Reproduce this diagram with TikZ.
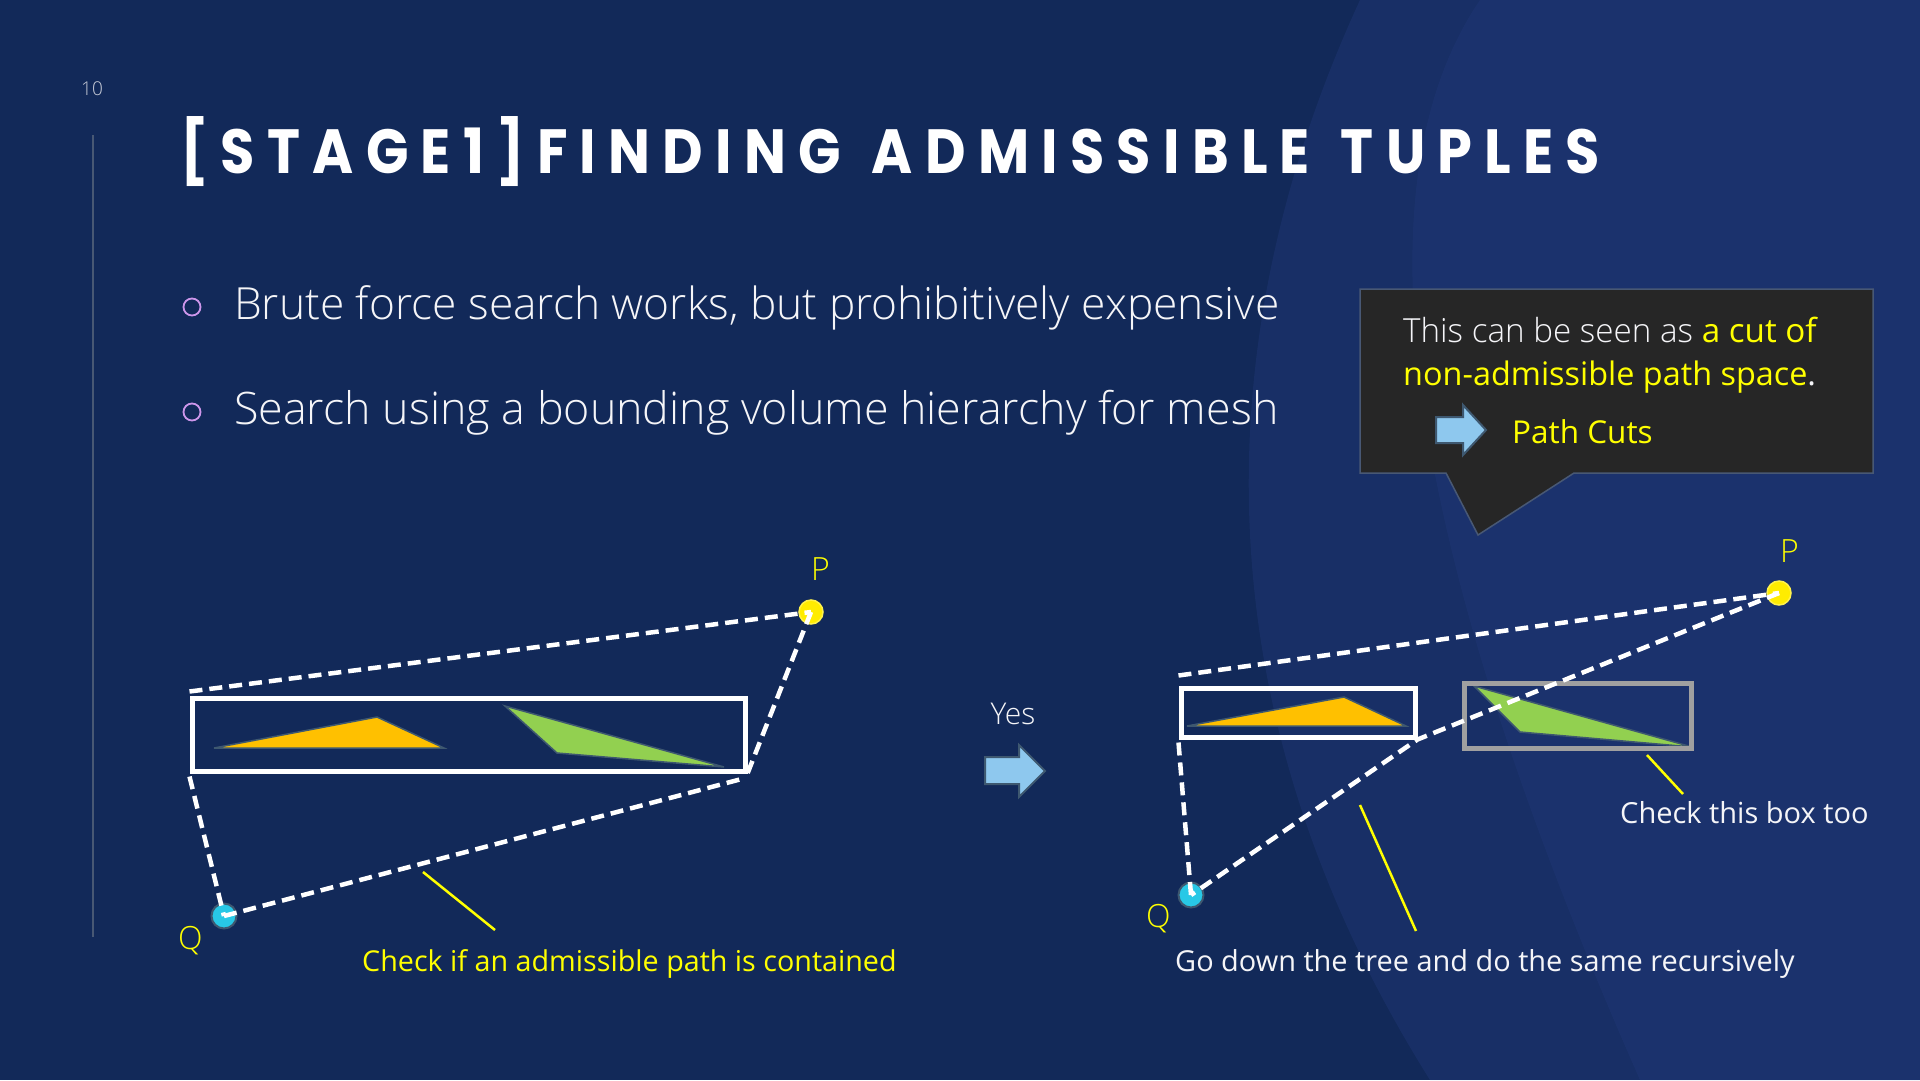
\documentclass[tikz,border=0pt]{standalone}
\usepackage{fontspec}
\setmainfont{Open Sans}
\newfontfamily\lightf{Open Sans Light}
\newfontfamily\titlef{Poppins}[UprightFont={* Bold},LetterSpace=22]
\usetikzlibrary{calc}
\definecolor{bgc}{RGB}{18,41,89}
\definecolor{bandc}{RGB}{42,64,138}
\definecolor{callc}{RGB}{38,38,38}
\definecolor{callb}{RGB}{72,88,116}
\definecolor{yel}{RGB}{255,255,0}
\definecolor{pyel}{RGB}{255,236,0}
\definecolor{qcyan}{RGB}{40,200,230}
\definecolor{slate}{RGB}{62,88,112}
\definecolor{orng}{RGB}{255,192,0}
\definecolor{grn}{RGB}{146,208,80}
\definecolor{abl}{RGB}{142,200,238}
\definecolor{bul}{RGB}{205,150,235}
\definecolor{graybox}{RGB}{160,160,160}
\definecolor{txtw}{RGB}{245,245,248}
\newcommand\titlebox{\titlef\fontsize{60}{60}\selectfont\setbox0=\hbox{[STAGE1]FINDING\hspace{0.55em}ADMISSIBLE\hspace{0.55em}TUPLES}\ht0=\fontcharht\font`\T\dp0=0pt\box0}
\tikzset{
  bbox/.style={draw=white,line width=5pt,minimum width=#1,inner sep=0pt},
  gbox/.style={draw=graybox,line width=5pt,inner sep=0pt},
  dline/.style={draw=white,line width=4.5pt,dash pattern=on 13pt off 7pt},
  ptr/.style={draw=yel,line width=2.5pt},
  pdot/.style={circle,fill=pyel,draw=pyel!70!white,line width=1.5pt,minimum size=24pt,inner sep=0pt},
  qdot/.style={circle,fill=qcyan,draw=slate,line width=2pt,minimum size=25pt,inner sep=0pt},
  tri/.style={draw=slate,line width=1.5pt,line join=miter},
  barrow/.style={fill=abl,draw=slate,line width=2pt,line join=miter},
  lbl/.style={anchor=base west,inner sep=0pt},
}
\begin{document}
\begin{tikzpicture}[x=1pt,y=-1pt]
\useasboundingbox (0,0) rectangle (1920,1080);
% background
\fill[bgc] (0,0) rectangle (1920,1080);
\fill[bandc,opacity=0.28] (1360,0) .. controls (1240,260) and (1160,650) .. (1430,1080) -- (1920,1080) -- (1920,0) -- cycle;
\fill[bandc,opacity=0.22] (1480,0) .. controls (1330,220) and (1450,650) .. (1640,1080) -- (1920,1080) -- (1920,0) -- cycle;
% page number and rule
\node[anchor=center,inner sep=0pt,text=txtw!80!bgc] (pnum) at (92,89) {\lightf\fontsize{19}{22}\selectfont 10};
\draw[color=callb,line width=1.2pt] (93,135) -- (93,937);
% title
\node[lbl] (title) at (180,173) {\color{white}\resizebox{1420pt}{44pt}{\titlebox}};
% bullets
\draw[bul,line width=1.8pt] (192,307) circle (8.5);
\draw[bul,line width=1.8pt] (192,412) circle (8.5);
\node[lbl,text=txtw] (b1) at (234,319) {\lightf\fontsize{44.3}{50}\selectfont Brute force search works, but prohibitively expensive};
\node[lbl,text=txtw] (b2) at (234,424) {\lightf\fontsize{44.8}{50}\selectfont Search using a bounding volume hierarchy for mesh};
% callout
\draw[fill=callc,draw=callb,line width=1.5pt,line join=miter] (1360,289) -- (1873,289) -- (1873,473) -- (1574,473) -- (1478,535) -- (1446,473) -- (1360,473) -- cycle;
\node[lbl] (c1) at (1403,342) {\fontsize{33.2}{36}\selectfont{\lightf\color{txtw}This can be seen as }\color{yel}a cut of};
\node[lbl] (c2) at (1403,385) {\fontsize{32.4}{36}\selectfont\color{yel}non-admissible path space\color{txtw}.};
\node[lbl,text=yel] (c3) at (1512,443) {\fontsize{31.5}{36}\selectfont Path Cuts};
\draw[barrow] (1436,417) -- (1463,417) -- (1463,405) -- (1486,430) -- (1463,455) -- (1463,443) -- (1436,443) -- cycle;
% ---------- left diagram
\fill[orng,tri] (214,748) -- (377,717) -- (444,748) -- cycle;
\fill[grn,tri] (505,706) -- (557,753) -- (724,767) -- cycle;
\node[bbox=553pt,minimum height=73pt] (lbox) at (468.5,734.5) {};
\node[pdot] (lP) at (811,612) {};
\node[qdot] (lQ) at (224,916) {};
\node[lbl,text=yel] (lPl) at (811,580) {\lightf\fontsize{32}{36}\selectfont P};
\node[lbl,text=yel] (lQl) at (178,949) {\lightf\fontsize{32}{36}\selectfont Q};
\draw[dline] ($(lbox.north west)+(0,-4)$) -- (lP.center);
\draw[dline] (lP.center) -- (lbox.south east);
\draw[dline] ($(lbox.south west)+(0,3)$) -- (lQ.center);
\draw[dline] (lQ.center) -- ($(lbox.south east)+(-4,5)$);
\node[lbl,text=yel] (lcap) at (362,971) {\fontsize{28.7}{32}\selectfont Check if an admissible path is contained};
\coordinate (lptrA) at (423,872);
\coordinate (lptrB) at (495,930);
\draw[ptr] (lptrA) -- (lptrB);
% yes arrow
\node[anchor=base,inner sep=0pt,text=txtw] (yes) at (1013,724) {\lightf\fontsize{30}{36}\selectfont Yes};
\draw[barrow] (985,757) -- (1019,757) -- (1019,745) -- (1045,771) -- (1019,797) -- (1019,784) -- (985,784) -- cycle;
% ---------- right diagram
\fill[orng,tri] (1187,726) -- (1344,697) -- (1406,726) -- cycle;
\fill[grn,tri] (1474,686) -- (1520,732) -- (1692,747) -- cycle;
\node[bbox=234pt,minimum height=49pt] (rbox) at (1298,712.5) {};
\node[gbox,minimum width=227pt,minimum height=65pt] (gbox) at (1577.5,715.5) {};
\node[pdot] (rP) at (1779,593) {};
\node[qdot] (rQ) at (1191,895) {};
\node[lbl,text=yel] (rPl) at (1780,562) {\lightf\fontsize{32}{36}\selectfont P};
\node[lbl,text=yel] (rQl) at (1146,927) {\lightf\fontsize{32}{36}\selectfont Q};
\draw[dline] ($(rbox.north west)+(0,-10)$) -- (rP.center);
\draw[dline] (rP.center) -- (rbox.south east) -- (rQ.center);
\draw[dline] ($(rbox.south west)+(0,3)$) -- (rQ.center);
\node[lbl,text=txtw] (rcap) at (1175,971) {\fontsize{28.9}{32}\selectfont Go down the tree and do the same recursively};
\node[lbl,text=txtw] (gcap) at (1620,823) {\fontsize{29}{32}\selectfont Check this box too};
\coordinate (rptrA) at (1360,805);
\coordinate (rptrB) at (1416,931);
\draw[ptr] (rptrA) -- (rptrB);
\coordinate (gptrA) at (1647,755);
\coordinate (gptrB) at (1683,794);
\draw[ptr] (gptrA) -- (gptrB);
\end{tikzpicture}
\end{document}
